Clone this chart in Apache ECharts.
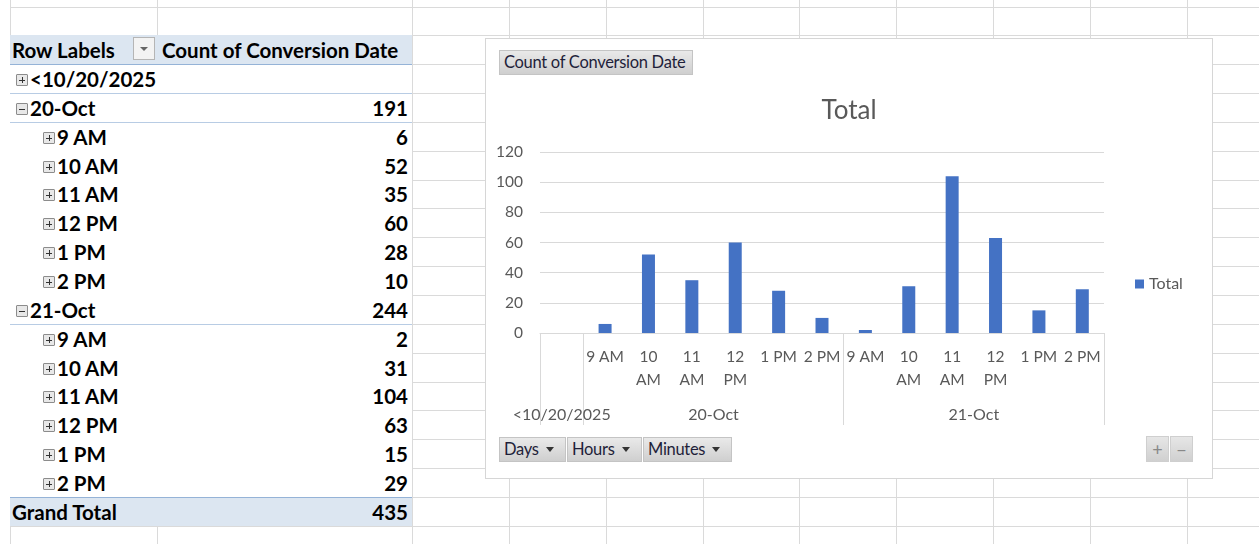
<!DOCTYPE html>
<html><head><meta charset="utf-8">
<script src="https://cdn.jsdelivr.net/npm/echarts@6/dist/echarts.min.js"></script>
<style>
html,body{margin:0;padding:0;background:#fff;width:1259px;height:544px;overflow:hidden;font-family:Lato,"Open Sans",sans-serif;}
#sheet{position:absolute;left:0;top:0;width:1259px;height:544px;}
.hl{position:absolute;height:1px;background:#dadada;}
.vl{position:absolute;width:1px;background:#dadada;}
.prow{position:absolute;left:10px;width:402px;font-weight:bold;font-size:20.5px;color:#000;white-space:nowrap;}
.prow .lab{position:absolute;top:0;}
.prow .val{position:absolute;right:4px;top:0;}
.box{position:absolute;width:10px;height:10px;border:1px solid #8c8c8c;background:#e8e8e8;border-radius:1px;}
.box:before{content:"";position:absolute;left:2px;top:4.5px;width:6px;height:1px;background:#333;}
.box.plus:after{content:"";position:absolute;left:4.5px;top:2px;width:1px;height:6px;background:#333;}
#chartwrap{position:absolute;left:485px;top:38px;width:726px;height:439px;border:1px solid #d6d6d6;background:#fff;}
#chart{position:absolute;left:0;top:0;width:726px;height:439px;}
.btn{position:absolute;height:25px;background:linear-gradient(#e9e9e9,#cfcfcf);border:1px solid #c4c4c4;box-sizing:border-box;font-size:16.5px;color:#1f1f3a;line-height:23px;padding-left:4px;white-space:nowrap;letter-spacing:-0.3px;}
.tri{display:inline-block;width:0;height:0;border-left:4.5px solid transparent;border-right:4.5px solid transparent;border-top:5px solid #333;margin-left:7px;vertical-align:middle;position:relative;top:-1px;}
.pm{position:absolute;width:23px;height:26px;background:linear-gradient(#e6e6e6,#d0d0d0);box-sizing:border-box;border:1px solid #cfcfcf;color:#888;font-size:18px;text-align:center;line-height:24px;}
</style></head>
<body>
<div id="sheet"></div>
<div id="chartwrap"><div id="chart"></div></div>
<script>
// ---- data ----
const dayGroups = ['<10/20/2025', '20-Oct', '21-Oct'];
const hourLabels = ['9 AM', '10 AM', '11 AM', '12 PM', '1 PM', '2 PM'];
const beforeValues = [null];
const oct20Values = [6, 52, 35, 60, 28, 10];
const oct21Values = [2, 31, 104, 63, 15, 29];
const yTicks = [0, 20, 40, 60, 80, 100, 120];
const seriesName = 'Total';
const valueHeader = 'Count of Conversion Date';

// ---- sheet grid ----
const sheet = document.getElementById('sheet');
const rowY = k => Math.round(6.5 + 28.85 * k);
const colX = [10, 157, 412, 509, 606, 703, 799, 896, 993, 1090, 1187];
function addEl(cls, css, parent) { const d = document.createElement('div'); d.className = cls; Object.assign(d.style, css); (parent || sheet).appendChild(d); return d; }
for (let k = 0; k <= 19; k++) addEl('hl', { left: '10px', top: rowY(k) + 'px', width: '1249px' });
colX.forEach(x => addEl('vl', { left: x + 'px', top: '0px', height: '544px' }));
// white cover for pivot area
addEl('', { position: 'absolute', left: '10px', top: (rowY(1)) + 'px', width: '402px', height: (rowY(18) - rowY(1)) + 'px', background: '#fff' });
addEl('vl', { left: '412px', top: rowY(1) + 'px', height: (rowY(18) - rowY(1)) + 'px', background: '#dadada' });

// ---- pivot table ----
const rows = [];
rows.push({ label: dayGroups[0], level: 1, box: 'plus', value: '' });
[[dayGroups[1], oct20Values], [dayGroups[2], oct21Values]].forEach(([d, vals]) => {
  rows.push({ label: d, level: 1, box: 'minus', value: vals.reduce((a, b) => a + b, 0) });
  hourLabels.forEach((h, i) => rows.push({ label: h, level: 2, box: 'plus', value: vals[i] }));
});
const grand = oct20Values.concat(oct21Values).reduce((a, b) => a + b, 0);
// header
const hTop = rowY(1), hBot = rowY(2);
addEl('', { position: 'absolute', left: '10px', top: hTop + 'px', width: '402px', height: (hBot - hTop) + 'px', background: '#dce6f1' });
addEl('', { position: 'absolute', left: '10px', top: hBot + 'px', width: '402px', height: '1px', background: '#95b3d7' });
const hdr = addEl('prow', { top: hTop + 'px', height: (hBot - hTop) + 'px', lineHeight: (hBot - hTop + 1) + 'px' });
hdr.innerHTML = '<span class="lab" style="left:2px">Row Labels</span><span class="lab" style="left:152px">' + valueHeader + '</span>';
const dd = addEl('', { position: 'absolute', left: '133px', top: (hTop + 2) + 'px', width: '22px', height: '23px', border: '1px solid #b5b5b5', boxSizing: 'border-box', background: '#f3f3f3' });
dd.innerHTML = '<div style="position:absolute;left:6px;top:9px;width:0;height:0;border-left:4px solid transparent;border-right:4px solid transparent;border-top:4px solid #666"></div>';
rows.forEach((r, i) => {
  const top = rowY(i + 2), h = rowY(i + 3) - top;
  const el = addEl('prow', { top: top + 'px', height: h + 'px', lineHeight: (h + 1) + 'px' });
  const bx = r.level === 1 ? 6 : 33;
  el.innerHTML = '<div class="box ' + r.box + '" style="left:' + bx + 'px;top:' + Math.round(h / 2 - 5) + 'px"></div>' +
    '<span class="lab" style="left:' + (bx + 14) + 'px">' + r.label + '</span><span class="val">' + r.value + '</span>';
  if (r.level === 1) addEl('', { position: 'absolute', left: '10px', top: (top + h) + 'px', width: '402px', height: '1px', background: '#b8cce4' });
});
// grand total
const gTop = rowY(17), gBot = rowY(18);
addEl('', { position: 'absolute', left: '10px', top: gTop + 'px', width: '402px', height: (gBot - gTop) + 'px', background: '#dce6f1' });
addEl('', { position: 'absolute', left: '10px', top: gTop + 'px', width: '402px', height: '1px', background: '#95b3d7' });
const gt = addEl('prow', { top: gTop + 'px', height: (gBot - gTop) + 'px', lineHeight: (gBot - gTop + 1) + 'px' });
gt.innerHTML = '<span class="lab" style="left:2px">Grand Total</span><span class="val">' + grand + '</span>';

// ---- chart buttons ----
const wrap = document.getElementById('chartwrap');
function btn(text, x, y, w, tri) {
  const b = addEl('btn', { left: (x - 486) + 'px', top: (y - 39) + 'px', width: w + 'px', zIndex: 5 }, wrap);
  b.innerHTML = text + (tri ? '<span class="tri"></span>' : '');
}
btn(valueHeader, 499, 50, 194, false);
btn('Days', 499, 437, 67, true);
btn('Hours', 567, 437, 75, true);
btn('Minutes', 643, 437, 89, true);
const p1 = addEl('pm', { left: (1146 - 486) + 'px', top: (436 - 39) + 'px', zIndex: 5 }, wrap); p1.textContent = '+';
const p2 = addEl('pm', { left: (1170 - 486) + 'px', top: (436 - 39) + 'px', zIndex: 5 }, wrap); p2.textContent = '−';

// ---- chart ----
const cats = [''].concat(hourLabels, hourLabels);
const values = beforeValues.concat(oct20Values, oct21Values);
const groupSizes = [beforeValues.length, oct20Values.length, oct21Values.length];
const bounds = [0]; groupSizes.forEach(s => bounds.push(bounds[bounds.length - 1] + s));
const centers = groupSizes.map((s, i) => bounds[i] + s / 2);
const txt = '#595959', font = 'Lato, "Open Sans", sans-serif';
const chart = echarts.init(document.getElementById('chart'));
chart.setOption({
  animation: false,
  textStyle: { fontFamily: font },
  title: { text: seriesName, left: 'center', top: 54, textStyle: { fontSize: 26, fontWeight: 'normal', color: txt, fontFamily: font } },
  legend: { data: [seriesName], left: 644, top: 232, icon: 'rect', itemWidth: 9, itemHeight: 9, textStyle: { fontSize: 16, color: txt, fontFamily: font } },
  grid: { left: 54, right: 108, top: 113, bottom: 145, containLabel: false },
  xAxis: [
    { type: 'category', data: cats, position: 'bottom',
      axisLine: { lineStyle: { color: '#d9d9d9', width: 1 } }, axisTick: { show: false },
      axisLabel: { interval: 0, fontSize: 15.5, color: txt, lineHeight: 23, margin: 12, fontFamily: font,
        formatter: v => v.replace(/^(\d\d) /, '$1\n') } },
    { type: 'value', min: bounds[0], max: bounds[bounds.length - 1], position: 'bottom',
      axisLine: { show: false }, splitLine: { show: false },
      axisTick: { show: true, customValues: bounds, length: 92, lineStyle: { color: '#d9d9d9' } },
      axisLabel: { customValues: centers, margin: 74, fontSize: 16, color: txt, fontFamily: font,
        formatter: v => { const i = centers.indexOf(v); return i >= 0 ? dayGroups[i] : ''; } } }
  ],
  yAxis: { type: 'value', min: yTicks[0], max: yTicks[yTicks.length - 1], interval: yTicks[1] - yTicks[0],
    axisLine: { show: false }, axisTick: { show: false },
    axisLabel: { fontSize: 15.5, color: txt, margin: 17, fontFamily: font },
    splitLine: { lineStyle: { color: '#d9d9d9', width: 1 } } },
  series: [{ name: seriesName, type: 'bar', data: values, xAxisIndex: 0, barWidth: 13, itemStyle: { color: '#4472c4' } }]
});
</script>
</body></html>
